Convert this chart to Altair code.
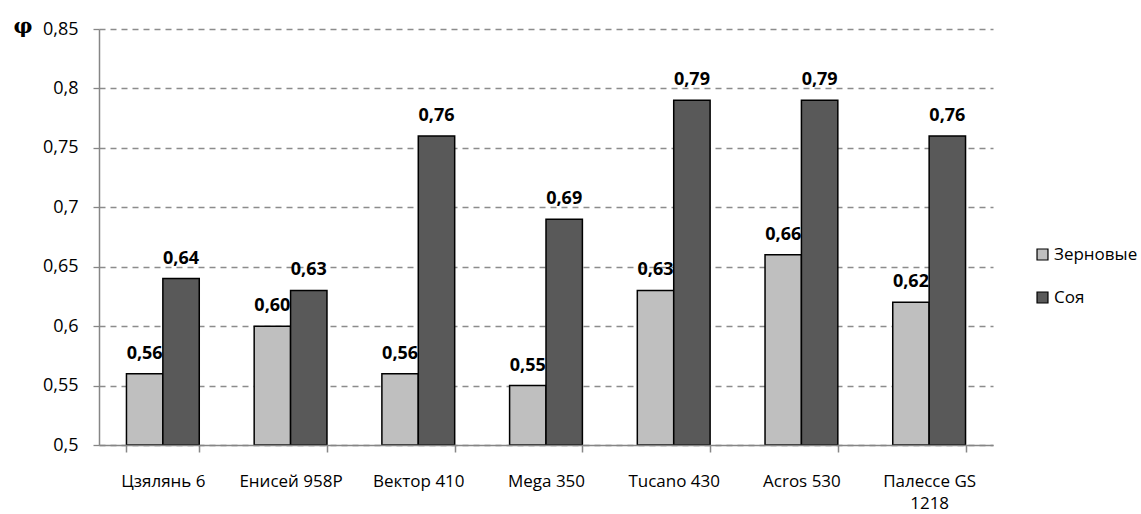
import altair as alt
import pandas as pd

# Combine harvesters and the crop-size coefficient φ for grain and soybean
models = ["Цзялянь 6", "Енисей 958Р", "Вектор 410", "Mega 350",
          "Tucano 430", "Acros 530", "Палессе GS 1218"]
grain = [0.56, 0.60, 0.56, 0.55, 0.63, 0.66, 0.62]
soy = [0.64, 0.63, 0.76, 0.69, 0.79, 0.79, 0.76]
series = ["Зерновые", "Соя"]
colors = ["#BFBFBF", "#595959"]
y_floor = 0.5
y_ceil = 0.85
y_ticks = [0.5, 0.55, 0.6, 0.65, 0.7, 0.75, 0.8, 0.85]

rows = []
for m, g, s in zip(models, grain, soy):
    rows.append({"model": m, "crop": series[0], "phi": g})
    rows.append({"model": m, "crop": series[1], "phi": s})
df = pd.DataFrame(rows)
df["label"] = df["phi"].map(lambda v: f"{v:.2f}".replace(".", ","))

FONT = "Open Sans"

x = alt.X(
    "model:N", sort=models, title=None,
    scale=alt.Scale(paddingInner=0.43, paddingOuter=0.215),
    axis=alt.Axis(
        labelAngle=0, labelFont=FONT, labelFontSize=17, labelColor="#000",
        labelPadding=21, tickBand="extent", tickSize=7, tickColor="#868686",
        domainColor="#868686", domainWidth=1.5, tickWidth=1.5, zindex=1,
        labelExpr="datum.value == 'Палессе GS 1218' ? ['Палессе GS', '1218'] : datum.value",
        labelLineHeight=22,
    ),
)
xo = alt.XOffset("crop:N", sort=series)
y = alt.Y(
    "phi:Q", title="φ",
    scale=alt.Scale(domain=[y_floor, y_ceil], nice=False, zero=False),
    axis=alt.Axis(
        values=y_ticks,
        labelExpr="replace(format(datum.value, '.2~f'), '.', ',')",
        labelFont=FONT, labelFontSize=18, labelColor="#000", labelPadding=15,
        grid=True, gridColor="#8C8C8C", gridDash=[6, 5], gridWidth=1.3,
        tickSize=6, tickColor="#868686", tickWidth=1.3,
        domainColor="#868686", domainWidth=1.5,
        titleAngle=0, titleX=-86, titleY=-3, titleFont="DejaVu Serif",
        titleFontSize=21, titleFontWeight="bold", titleColor="#000",
        titleAlign="left", titleBaseline="middle",
    ),
)
color = alt.Color(
    "crop:N", sort=series, title=None,
    scale=alt.Scale(domain=series, range=colors),
    legend=alt.Legend(
        orient="none", legendX=935, legendY=217, symbolType="square",
        symbolSize=120, symbolStrokeColor="#000", symbolStrokeWidth=1.2,
        labelFont=FONT, labelFontSize=17, labelColor="#000",
        rowPadding=25, labelOffset=3,
    ),
)

base = alt.Chart(df).encode(x=x, xOffset=xo)

bars = base.mark_bar(stroke="#000", strokeWidth=1.5).encode(
    y=y, y2=alt.datum(y_floor), color=color
)

labels = base.mark_text(
    font=FONT, fontSize=18, fontWeight="bold", baseline="bottom", dy=-11, color="#000"
).encode(y=alt.Y("phi:Q"), text="label:N")

chart = (
    alt.layer(bars, labels)
    .properties(
        width=894, height=416,
        autosize=alt.AutoSizeParams(type="none"),
        padding={"left": 99, "top": 29, "right": 148, "bottom": 69},
    )
    .configure_view(stroke=None)
    .configure_axis(gridCap="butt")
)

chart.save("out.html", embed_options={"renderer": "svg", "actions": False})
